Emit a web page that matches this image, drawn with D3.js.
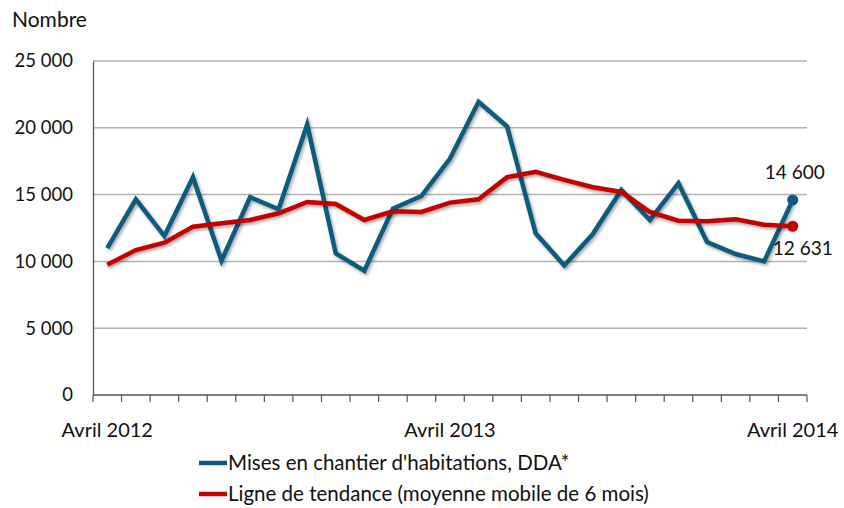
<!DOCTYPE html>
<html>
<head>
<meta charset="utf-8">
<script src="https://cdn.jsdelivr.net/npm/d3@7/dist/d3.min.js"></script>
<style>
  body { margin: 0; background: #fff; }
  svg text { font-family: Lato, "Open Sans", sans-serif; fill: #111; }
</style>
</head>
<body>
<svg id="chart" width="844" height="508"></svg>
<script>
// months Avril 2012 .. Avril 2014
const months = d3.range(25).map(i => i);
const tickLabels = { 0: "Avril 2012", 12: "Avril 2013", 24: "Avril 2014" };

const miseEnChantier = [11000, 14650, 11900, 16300, 10050, 14800, 13900, 20250, 10600, 9300,
  13950, 14900, 17700, 21950, 20100, 12100, 9700, 12050, 15350, 13100,
  15850, 11450, 10550, 10000, 14600];
const tendance = [9750, 10850, 11400, 12600, 12850, 13100, 13600, 14450, 14300, 13100,
  13750, 13700, 14400, 14650, 16300, 16700, 16100, 15550, 15200, 13700,
  13050, 13000, 13150, 12750, 12631];
const yTicks = [0, 5000, 10000, 15000, 20000, 25000];

const margin = { top: 61, right: 37, bottom: 113, left: 93 };
const width = 844, height = 508;
const svg = d3.select("#chart");

const x = d3.scaleBand().domain(months).range([margin.left, width - margin.right]);
const y = d3.scaleLinear().domain([0, 25000]).range([height - margin.bottom, margin.top]);
const cx = d => x(d) + x.bandwidth() / 2;
const fmt = v => d3.format(",")(v).replace(/,/g, " ");

// drop shadow
const defs = svg.append("defs");
const f = defs.append("filter").attr("id", "shadow").attr("x", "-10%").attr("y", "-10%").attr("width", "120%").attr("height", "130%");
f.append("feDropShadow").attr("dx", 1.5).attr("dy", 2).attr("stdDeviation", 1.5)
  .attr("flood-color", "#000").attr("flood-opacity", 0.35);

// grid
svg.append("g").selectAll("line")
  .data(yTicks.filter(d => d > 0))
  .join("line")
    .attr("x1", margin.left).attr("x2", width - margin.right)
    .attr("y1", d => y(d)).attr("y2", d => y(d))
    .attr("stroke", "#b3b3b3").attr("stroke-width", 1.5);

// y axis
const yAxis = svg.append("g")
  .attr("transform", `translate(${margin.left},0)`)
  .call(d3.axisLeft(y).tickValues(yTicks).tickFormat(fmt).tickSize(0).tickPadding(20));
yAxis.select(".domain").attr("stroke", "#555").attr("stroke-width", 1.3);
yAxis.selectAll("text").attr("font-size", 18.5).attr("font-family", "Lato, sans-serif").attr("fill", "#111");

// x axis with ticks between months
const xAxisG = svg.append("g").attr("transform", `translate(0,${y(0)})`);
xAxisG.append("line")
  .attr("x1", margin.left).attr("x2", width - margin.right)
  .attr("stroke", "#555").attr("stroke-width", 1.3);
xAxisG.selectAll("line.tick")
  .data(d3.range(26))
  .join("line")
    .attr("class", "tick")
    .attr("x1", i => margin.left + i * x.step()).attr("x2", i => margin.left + i * x.step())
    .attr("y1", 0).attr("y2", 7)
    .attr("stroke", "#555").attr("stroke-width", 1.2);
xAxisG.selectAll("text")
  .data(Object.keys(tickLabels).map(Number))
  .join("text")
    .attr("x", d => cx(d))
    .attr("y", 42)
    .attr("text-anchor", "middle")
    .attr("font-size", 20)
    .text(d => tickLabels[d]);

svg.append("text").attr("x", 12).attr("y", 27).attr("font-size", 21).text("Nombre");

// lines
const line = d3.line().x((d, i) => cx(months[i])).y(d => y(d));
const series = [
  { values: miseEnChantier, color: "#0f5b7d" },
  { values: tendance, color: "#c40000" }
];
series.forEach(s => {
  svg.append("path")
    .datum(s.values)
    .attr("d", line)
    .attr("fill", "none")
    .attr("stroke", s.color)
    .attr("stroke-width", 4.5)
    .attr("stroke-linejoin", "miter")
    .attr("filter", "url(#shadow)");
  const last = s.values.length - 1;
  svg.append("circle")
    .attr("cx", cx(months[last])).attr("cy", y(s.values[last]))
    .attr("r", 5.5).attr("fill", s.color);
});

// end labels
svg.append("text")
  .attr("x", cx(24) + 2).attr("y", y(miseEnChantier[24]) - 21)
  .attr("text-anchor", "middle").attr("font-size", 19)
  .text(fmt(miseEnChantier[24]));
svg.append("text")
  .attr("x", cx(24) + 10).attr("y", y(tendance[24]) + 29)
  .attr("text-anchor", "middle").attr("font-size", 19)
  .text(fmt(tendance[24]));

// legend
const legend = [
  { label: "Mises en chantier d'habitations, DDA*", color: "#0f5b7d" },
  { label: "Ligne de tendance (moyenne mobile de 6 mois)", color: "#c40000" }
];
const lg = svg.append("g").selectAll("g")
  .data(legend)
  .join("g")
    .attr("transform", (d, i) => `translate(199,${463 + i * 31})`);
lg.append("line").attr("x1", 0).attr("x2", 28)
  .attr("stroke", d => d.color).attr("stroke-width", 4.5);
lg.append("text").attr("x", 29).attr("y", 7).attr("font-size", 20.5).text(d => d.label);
</script>
</body>
</html>
